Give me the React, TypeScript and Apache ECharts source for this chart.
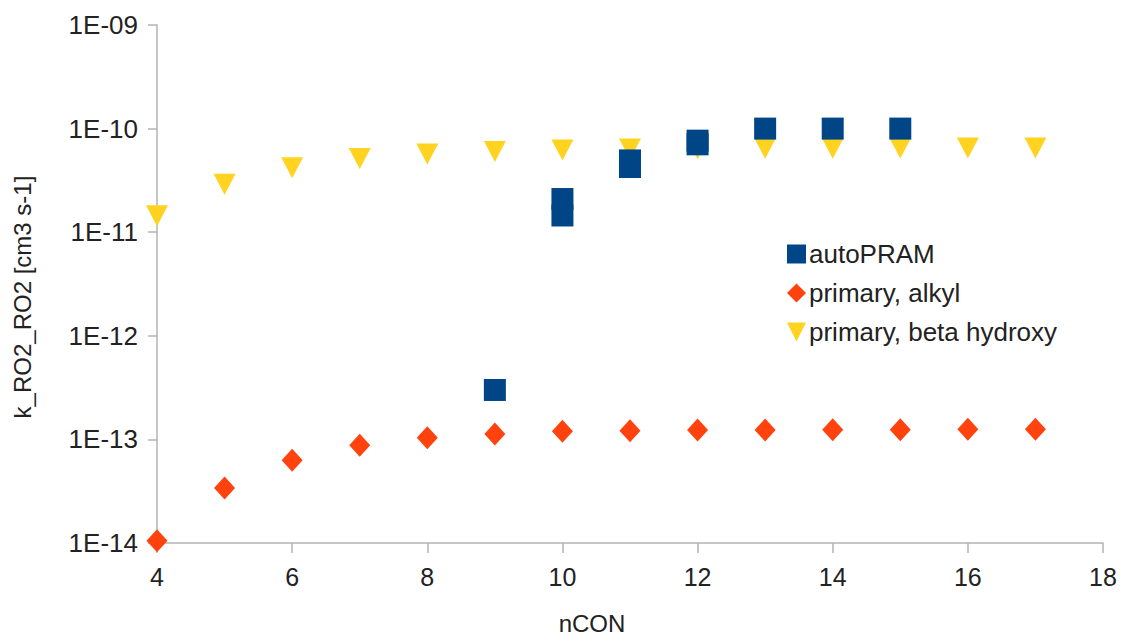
import React, { useEffect, useRef } from "react";
import * as echarts from "echarts";

const nCON = [4, 5, 6, 7, 8, 9, 10, 11, 12, 13, 14, 15, 16, 17];
const primaryAlkyl = [1.05e-14, 3.4e-14, 6.3e-14, 8.8e-14, 1.04e-13, 1.13e-13, 1.2e-13, 1.21e-13, 1.23e-13, 1.23e-13, 1.24e-13, 1.24e-13, 1.25e-13, 1.25e-13];
const primaryBetaHydroxy = [1.44e-11, 2.9e-11, 4.2e-11, 5.15e-11, 5.7e-11, 6.0e-11, 6.2e-11, 6.35e-11, 6.4e-11, 6.45e-11, 6.45e-11, 6.5e-11, 6.5e-11, 6.5e-11];
const autoPramN = [9, 10, 10, 11, 11, 12, 12, 13, 14, 15];
const autoPramK = [3.0e-13, 2.09e-11, 1.45e-11, 4.93e-11, 4.26e-11, 7.65e-11, 7.05e-11, 1.0e-10, 1.0e-10, 1.0e-10];

const seriesNames = ["autoPRAM", "primary, alkyl", "primary, beta hydroxy"];
const xTitle = "nCON";
const yTitle = "k_RO2_RO2 [cm3 s-1]";

const FONT = "Liberation Sans";
const TEXT = "#222";
const AXIS = "#b3b3b3";

export default function App() {
  const ref = useRef<HTMLDivElement>(null);
  useEffect(() => {
    if (!ref.current) return;
    const chart = echarts.init(ref.current, null, { renderer: "svg" });
    const fmtExp = (v: number) => {
      const e = Math.round(Math.log10(v));
      const a = Math.abs(e);
      return "1E" + (e < 0 ? "-" : "+") + (a < 10 ? "0" + a : String(a));
    };
    chart.setOption({
      animation: false,
      backgroundColor: "#fff",
      textStyle: { fontFamily: FONT },
      grid: { left: 157, right: 20, top: 25, bottom: 94, containLabel: false },
      xAxis: {
        type: "value",
        min: 4,
        max: 18,
        interval: 2,
        axisLine: { show: true, onZero: false, lineStyle: { color: AXIS, width: 1.5 } },
        axisTick: { show: true, inside: false, length: 10, lineStyle: { color: AXIS, width: 1.5 } },
        axisLabel: { fontSize: 25, color: TEXT, margin: 21, fontFamily: FONT },
        splitLine: { show: false },
      },
      yAxis: {
        type: "log",
        logBase: 10,
        min: 1e-14,
        max: 1e-9,
        splitNumber: 5,
        axisLine: { show: true, onZero: false, lineStyle: { color: AXIS, width: 1.5 } },
        axisTick: { show: true, inside: false, length: 9, lineStyle: { color: AXIS, width: 1.5 } },
        minorTick: { show: false },
        axisLabel: { fontSize: 26, color: TEXT, margin: 19, fontFamily: FONT, formatter: fmtExp },
        splitLine: { show: false },
      },
      legend: {
        data: seriesNames,
        orient: "vertical",
        left: 782,
        top: 236,
        itemWidth: 19,
        itemHeight: 19,
        itemGap: 13,
        textStyle: { fontSize: 26, color: TEXT, fontFamily: FONT, padding: [0, 0, 0, -2] },
      },
      graphic: [
        {
          type: "text",
          x: 22,
          y: 297,
          rotation: Math.PI / 2,
          style: { text: yTitle, fontSize: 24, fill: TEXT, fontFamily: FONT, align: "center", verticalAlign: "middle" },
        },
        {
          type: "text",
          x: 592,
          y: 623,
          style: { text: xTitle, fontSize: 24, fill: TEXT, fontFamily: FONT, align: "center", verticalAlign: "middle" },
        },
      ],
      series: [
        {
          name: seriesNames[0],
          type: "scatter",
          z: 5,
          symbol: "rect",
          symbolSize: 22,
          itemStyle: { color: "#004586", opacity: 1 },
          data: autoPramN.map((n, i) => [n, autoPramK[i]]),
        },
        {
          name: seriesNames[1],
          type: "scatter",
          z: 3,
          symbol: "diamond",
          symbolSize: [21, 23],
          itemStyle: { color: "#ff420e", opacity: 1 },
          data: nCON.map((n, i) => [n, primaryAlkyl[i]]),
        },
        {
          name: seriesNames[2],
          type: "scatter",
          z: 2,
          symbol: "path://M0,0L10,0L5,10Z",
          symbolSize: [22, 21],
          itemStyle: { color: "#ffd320", opacity: 1 },
          data: nCON.map((n, i) => [n, primaryBetaHydroxy[i]]),
        },
      ],
    });
    return () => chart.dispose();
  }, []);
  return <div ref={ref} style={{ width: 1123, height: 637, position: "absolute", left: 0, top: 0 }} />;
}
